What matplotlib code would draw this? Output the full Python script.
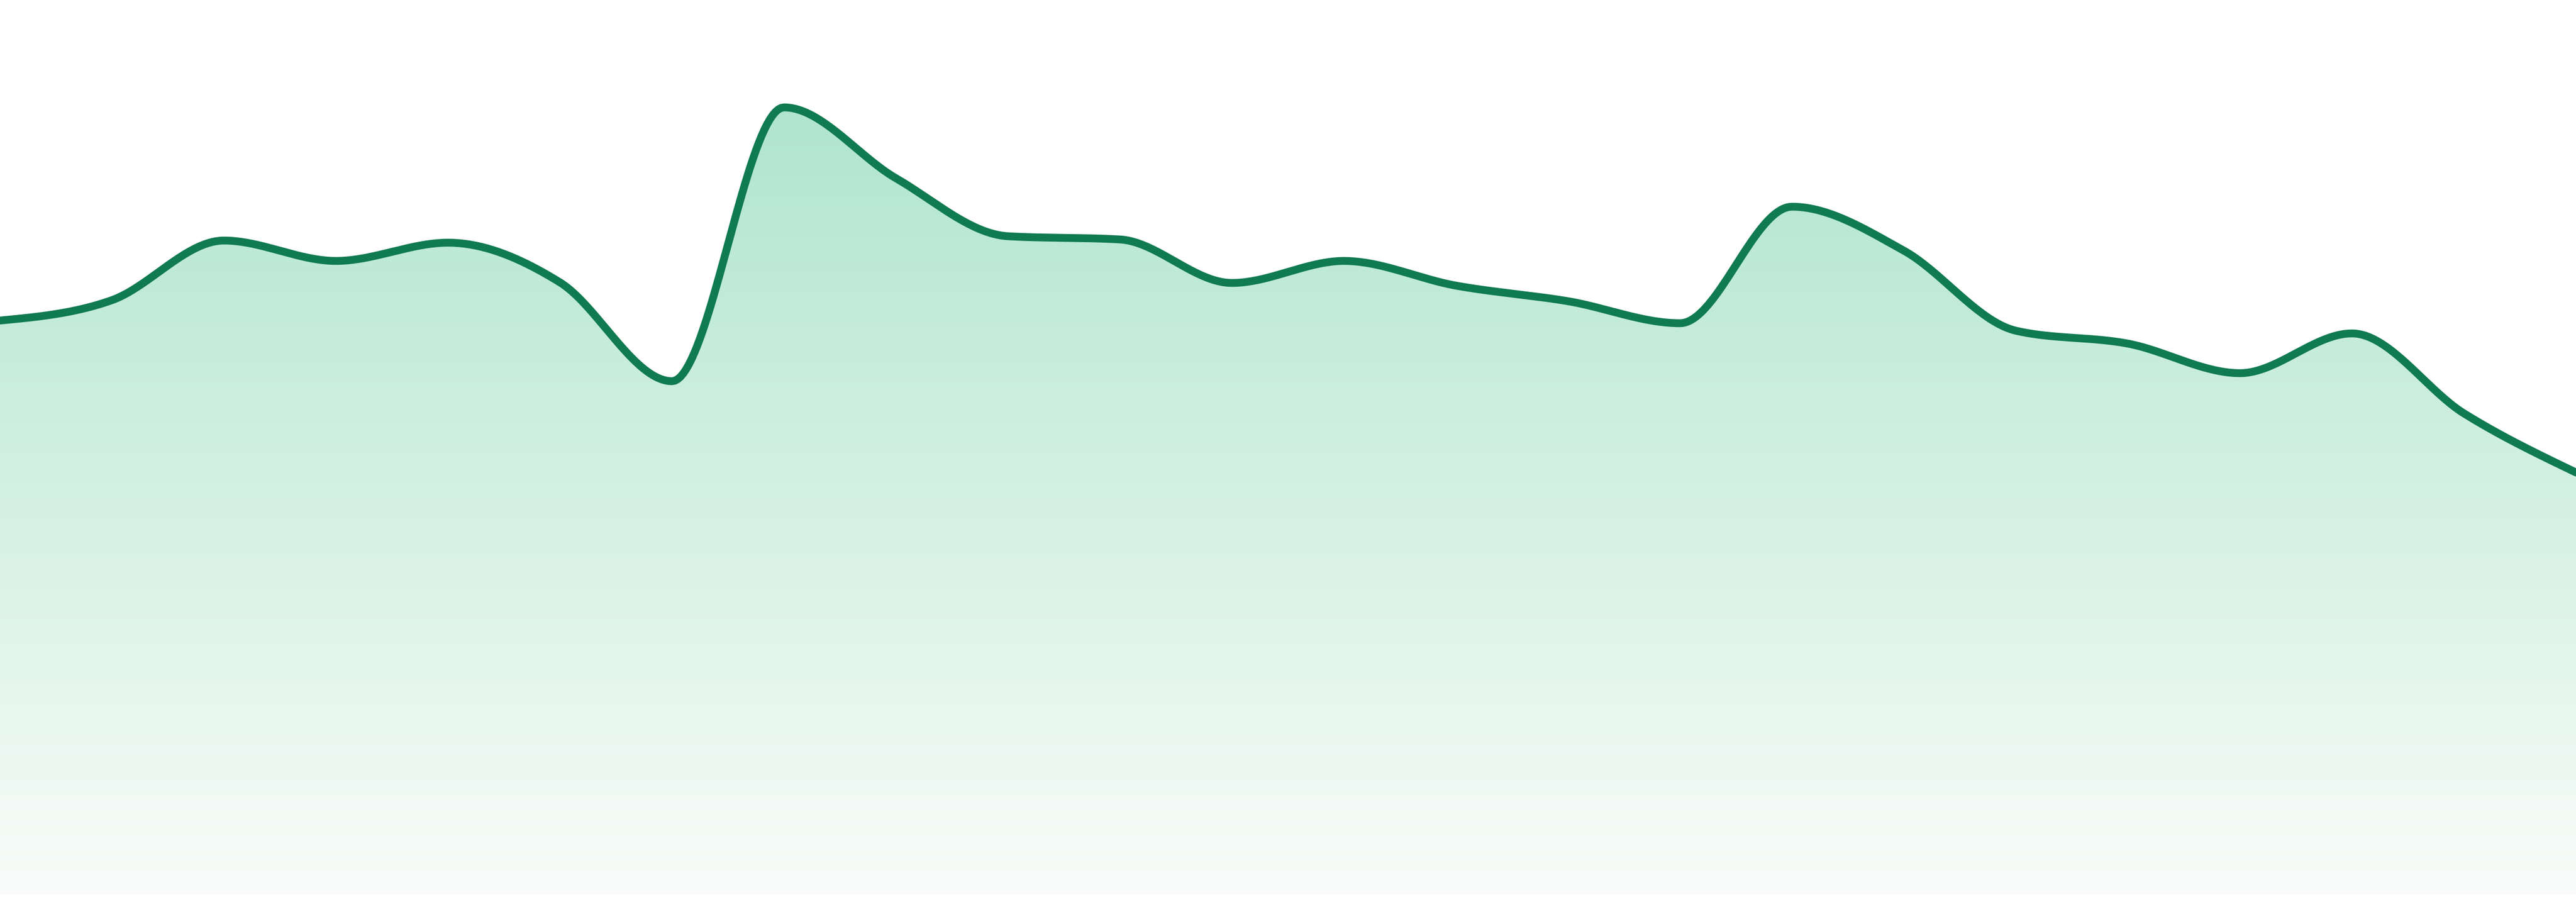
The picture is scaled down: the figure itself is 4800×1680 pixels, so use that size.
import matplotlib

matplotlib.use("Agg")
import matplotlib.pyplot as plt
import numpy as np
from matplotlib.colors import LinearSegmentedColormap

# values (one point per step, 24 steps)
steps = list(range(24))
values = [
    106.9, 110.7, 121.8, 118.0, 121.4, 114.0, 95.6, 146.6,
    133.4, 122.6, 122.0, 113.9, 118.0, 113.4, 110.5, 106.4,
    128.1, 119.9, 105.0, 102.6, 97.1, 104.5, 89.6, 78.6,
]
y_max = 166.6

LINE_COLOR = "#107a51"
FILL_TOP = "#b0e5cf"
FILL_BOTTOM = "#f9fcfa"


def monotone_x(xs, ys, n=40):
    """Monotone cubic interpolation (same rule as d3.curveMonotoneX)."""
    xs = np.asarray(xs, dtype=float)
    ys = np.asarray(ys, dtype=float)
    h = np.diff(xs)
    s = np.diff(ys) / h
    t = np.zeros_like(ys)
    for i in range(1, len(xs) - 1):
        p = (s[i - 1] * h[i] + s[i] * h[i - 1]) / (h[i - 1] + h[i])
        t[i] = (np.sign(s[i - 1]) + np.sign(s[i])) * min(
            abs(s[i - 1]), abs(s[i]), 0.5 * abs(p)
        )
    t[0] = (3 * s[0] - t[1]) / 2
    t[-1] = (3 * s[-1] - t[-2]) / 2

    out_x, out_y = [], []
    for i in range(len(xs) - 1):
        u = np.linspace(0, 1, n, endpoint=(i == len(xs) - 2))
        h00 = 2 * u**3 - 3 * u**2 + 1
        h10 = u**3 - 2 * u**2 + u
        h01 = -2 * u**3 + 3 * u**2
        h11 = u**3 - u**2
        out_x.append(xs[i] + u * h[i])
        out_y.append(
            h00 * ys[i] + h10 * h[i] * t[i] + h01 * ys[i + 1] + h11 * h[i] * t[i + 1]
        )
    return np.concatenate(out_x), np.concatenate(out_y)


def main() -> None:
    fig = plt.figure(figsize=(48, 16.8), dpi=100)
    ax = fig.add_axes([0, 14 / 1680, 1, 1666 / 1680])
    ax.set_xlim(steps[0], steps[-1])
    ax.set_ylim(0, y_max)
    ax.axis("off")

    sx, sy = monotone_x(steps, values)

    # gradient fill clipped to the area under the curve
    fill = ax.fill_between(sx, sy, 0, color="none", lw=0)
    cmap = LinearSegmentedColormap.from_list("g", [FILL_BOTTOM, FILL_TOP])
    grad = np.linspace(0, 1, 256).reshape(-1, 1)
    img = ax.imshow(
        grad,
        cmap=cmap,
        aspect="auto",
        origin="lower",
        extent=[steps[0], steps[-1], 0, max(values)],
        interpolation="bilinear",
        zorder=1,
    )
    path = fill.get_paths()[0]
    img.set_clip_path(path, transform=ax.transData)

    ax.plot(
        sx, sy, color=LINE_COLOR, lw=10.5, solid_joinstyle="round",
        solid_capstyle="round", zorder=3,
    )

    fig.savefig("out.png", dpi=100, facecolor="white")
    plt.close(fig)


if __name__ == "__main__":
    main()
